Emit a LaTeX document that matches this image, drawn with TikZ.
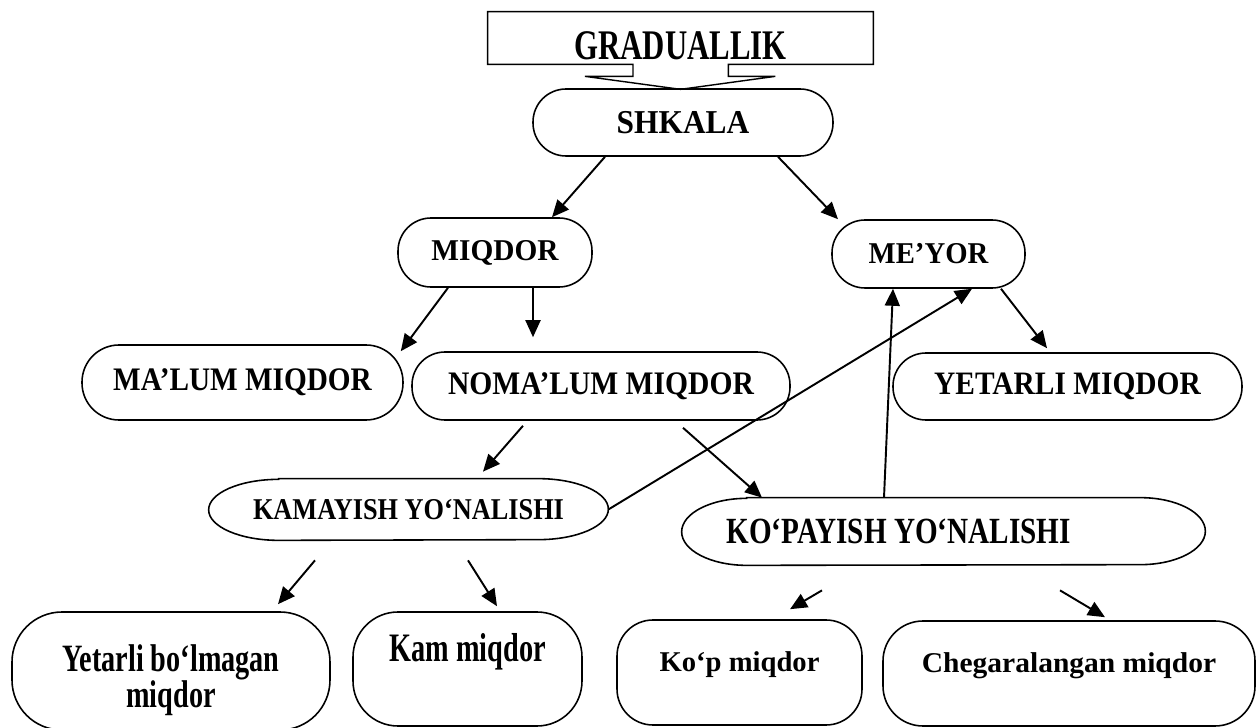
\documentclass[tikz,border=0pt]{standalone}
\usepackage{fontspec}
\setmainfont{Liberation Serif}
\usetikzlibrary{calc,arrows.meta,positioning}
\newcommand{\txt}[3]{\fontsize{#1}{#1}\selectfont\scalebox{#2}[1]{#3}}

\begin{document}
\begin{tikzpicture}[
    box/.style = {draw, line width=0.9pt, rounded corners=0.66cm, inner sep=0pt, font=\bfseries},
    oval/.style = {inner sep=0pt, font=\bfseries},
    arr/.style = {line width=1.1pt, -{Triangle[length=0.34cm,width=0.3cm]}},
  ]
  \useasboundingbox (0,0) rectangle (25.14,-14.56);
  % top
  \node[inner sep=0pt, minimum width=7.7cm, minimum height=1.04cm, font=\bfseries,
        text height=0.88cm, text depth=0cm] (grad) at (13.61,-0.76) {\txt{24}{0.73}{GRADUALLIK}};
  \coordinate (tip) at ($(grad.south)+(0,-0.5)$);
  \path[draw, line width=0.8pt] (grad.south west) -- (grad.north west) -- (grad.north east)
    -- (grad.south east) -- ++(-2.9,0) -- ++(0,-0.24) -- ++(0.94,0) -- (tip)
    -- ($(grad.south)+(-1.91,-0.24)$) -- ++(0.96,0) -- ++(0,0.24) -- cycle;
  \node[box, minimum width=6cm, minimum height=1.34cm] (shkala) at (13.66,-2.45) {\txt{19}{0.94}{SHKALA}};
  % second row
  \node[box, minimum width=3.88cm, minimum height=1.38cm] (miqdor) at (9.9,-5.05) {\txt{17.2}{0.97}{MIQDOR}};
  \node[box, minimum width=3.86cm, minimum height=1.36cm] (meyor) at (18.57,-5.08) {\txt{17.2}{0.95}{ME’YOR}};
  % third row
  \node[box, rounded corners=0.74cm, minimum width=6.42cm, minimum height=1.5cm] (malum) at (4.85,-7.65) {\txt{18.7}{0.89}{MA’LUM MIQDOR}};
  \node[box, minimum width=7.56cm, minimum height=1.36cm] (nomalum) at (12.02,-7.72) {\txt{18.7}{0.9}{NOMA’LUM MIQDOR}};
  \node[box, minimum width=6.98cm, minimum height=1.34cm] (yetarli) at (21.35,-7.73) {\txt{18.6}{0.9}{YETARLI MIQDOR}};
  % yo'nalishlar
  \node[oval, minimum width=7.98cm, minimum height=1.22cm] (kamayish) at (8.17,-10.19) {\txt{17.2}{0.87}{KAMAYISH YO‘NALISHI}};
  \path[draw, line width=0.9pt] ([xshift=1.4cm]kamayish.north west) -- ([xshift=-1.4cm]kamayish.north east)
    arc[start angle=90, end angle=-90, x radius=1.4cm, y radius=0.61cm]
    -- ([xshift=1.4cm]kamayish.south west)
    arc[start angle=270, end angle=90, x radius=1.4cm, y radius=0.61cm] -- cycle;
  \node[oval, minimum width=10.46cm, minimum height=1.34cm] (kopayish) at (18.87,-10.63) {\txt{21}{0.79}{KO‘PAYISH YO‘NALISHI}\hspace*{1.8cm}};
  \path[draw, line width=0.9pt] ([xshift=1.3cm]kopayish.north west) -- ([xshift=-1.3cm]kopayish.north east)
    arc[start angle=90, end angle=-90, x radius=1.3cm, y radius=0.67cm]
    -- ([xshift=1.3cm]kopayish.south west)
    arc[start angle=270, end angle=90, x radius=1.3cm, y radius=0.67cm] -- cycle;
  % bottom
  \node[box, rounded corners=1cm, minimum width=6.36cm, minimum height=2.36cm] (ybolmagan) at (3.42,-13.42)
    {\smash{\raisebox{0cm}{\txt{22}{0.73}{\begin{tabular}[t]{@{}c@{}}Yetarli bo‘lmagan\\[-1.5pt] miqdor\end{tabular}}}}};
  \node[box, rounded corners=0.9cm, minimum width=4.58cm, minimum height=2.28cm] (kam) at (9.35,-13.38) {\smash{\raisebox{0.15cm}{\txt{23}{0.7}{Kam miqdor}}}};
  \node[box, rounded corners=0.72cm, minimum width=4.9cm, minimum height=2.1cm] (kop) at (14.79,-13.45) {\smash{\raisebox{0.02cm}{\txt{16.3}{1}{Ko‘p miqdor}}}};
  \node[box, rounded corners=0.8cm, minimum width=7.44cm, minimum height=2.1cm] (chegara) at (21.38,-13.47) {\smash{\raisebox{0.02cm}{\txt{16.3}{1.03}{Chegaralangan miqdor}}}};
  % arrows
  \draw[arr] ([xshift=-1.56cm]shkala.south) -- ([xshift=1.14cm]miqdor.north);
  \draw[arr] ([xshift=1.9cm]shkala.south) -- ([xshift=-1.81cm]meyor.north);
  \draw[arr] ([xshift=-0.94cm]miqdor.south) -- ([shift={(-0.06,-0.14)}]malum.north east);
  \draw[arr] ([xshift=0.76cm]miqdor.south) -- ([shift={(-1.36,0.28)}]nomalum.north);
  \draw[arr] ([xshift=1.45cm]meyor.south) -- ([shift={(-0.41,0.08)}]yetarli.north);
  \draw[arr] ([shift={(-1.56,-0.1)}]nomalum.south) -- ([shift={(1.49,0.14)}]kamayish.north);
  \draw[arr] ([shift={(1.64,-0.14)}]nomalum.south) -- ([xshift=-3.63cm]kopayish.north);
  \draw[arr] (kamayish.east) -- ([xshift=0.87cm]meyor.south);
  \draw[arr] ([xshift=-1.19cm]kopayish.north) -- ([xshift=-0.71cm]meyor.south);
  \draw[arr] ([shift={(-1.87,-0.4)}]kamayish.south) -- ([shift={(2.14,0.14)}]ybolmagan.north);
  \draw[arr] ([shift={(1.19,-0.4)}]kamayish.south) -- ([shift={(0.59,0.1)}]kam.north);
  \draw[arr] ([shift={(-2.43,-0.5)}]kopayish.south) -- ([shift={(1.01,0.2)}]kop.north);
  \draw[arr] ([shift={(2.33,-0.5)}]kopayish.south) -- ([shift={(0.72,0.06)}]chegara.north);
\end{tikzpicture}
\end{document}
